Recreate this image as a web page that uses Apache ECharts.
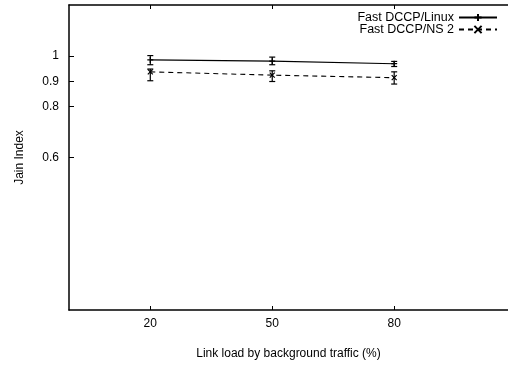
<!DOCTYPE html>
<html><head><meta charset="utf-8">
<script src="https://cdn.jsdelivr.net/npm/echarts@6/dist/echarts.min.js"></script>
<style>html,body{margin:0;padding:0;background:#fff}#c{width:508px;height:366px}</style>
</head><body><div id="c"></div>
<script>
const categories = [20, 50, 80];
const yTicks = [0.6, 0.8, 0.9, 1];
const linuxVals = [0.984, 0.979, 0.969];
const linuxLow = [0.965, 0.965, 0.958];
const linuxHigh = [1.001, 0.995, 0.978];
const ns2Vals = [0.937, 0.924, 0.914];
const ns2Low = [0.902, 0.899, 0.889];
const ns2High = [0.948, 0.941, 0.937];

const FONT = '"Liberation Sans", Arial, Helvetica, sans-serif';
const plusPath = 'path://M0,5L10,5M5,0L5,10';
const crossPath = 'path://M0,0L10,10M10,0L0,10';

function errData(lo, hi) { return categories.map((c, i) => [c, lo[i], hi[i]]); }
function errRender(params, api) {
  const x = api.value(0);
  const a = api.coord([x, api.value(1)]);
  const b = api.coord([x, api.value(2)]);
  const w = 3;
  const st = { stroke: '#000', lineWidth: 1.2 };
  return { type: 'group', children: [
    { type: 'line', shape: { x1: a[0], y1: a[1], x2: b[0], y2: b[1] }, style: st },
    { type: 'line', shape: { x1: a[0] - w, y1: a[1], x2: a[0] + w, y2: a[1] }, style: st },
    { type: 'line', shape: { x1: b[0] - w, y1: b[1], x2: b[0] + w, y2: b[1] }, style: st }
  ]};
}

const chart = echarts.init(document.getElementById('c'));
chart.setOption({
  animation: false,
  grid: { left: 69, right: 0, top: 5, bottom: 56 },
  legend: {
    right: 5, top: 6, orient: 'vertical', align: 'right', itemGap: -1,
    itemWidth: 38, itemHeight: 9,
    textStyle: { fontFamily: FONT, fontSize: 12.5, color: '#000' },
    data: ['Fast DCCP/Linux', 'Fast DCCP/NS 2']
  },
  xAxis: [{
    type: 'value', min: 0, max: 108, position: 'bottom',
    name: 'Link load by background traffic (%)', nameLocation: 'middle', nameGap: 38,
    nameTextStyle: { fontFamily: FONT, fontSize: 12, color: '#000' },
    axisLine: { lineStyle: { color: '#000', width: 1.5 } },
    axisTick: { inside: true, length: 4, customValues: categories, lineStyle: { color: '#000' } },
    axisLabel: { customValues: categories, fontFamily: FONT, fontSize: 12, color: '#000', margin: 8 },
    splitLine: { show: false }
  }, {
    type: 'value', min: 0, max: 108, position: 'top',
    axisLine: { lineStyle: { color: '#000', width: 1.5 } },
    axisTick: { inside: true, length: 4, customValues: categories, lineStyle: { color: '#000' } },
    axisLabel: { show: false },
    splitLine: { show: false }
  }],
  yAxis: {
    type: 'value', min: 0, max: 1.2,
    name: 'Jain Index', nameLocation: 'middle', nameGap: 43, nameRotate: 90,
    nameTextStyle: { fontFamily: FONT, fontSize: 12, color: '#000' },
    axisLine: { show: true, lineStyle: { color: '#000', width: 1.5 } },
    axisTick: { show: true, inside: true, length: 5, customValues: yTicks, lineStyle: { color: '#000' } },
    axisLabel: { customValues: yTicks, fontFamily: FONT, fontSize: 12, color: '#000', margin: 10 },
    splitLine: { show: false }
  },
  series: [{
    name: 'Fast DCCP/Linux', type: 'line',
    data: categories.map((c, i) => [c, linuxVals[i]]),
    symbol: plusPath, symbolSize: 6,
    lineStyle: { color: '#000', width: 1.1, type: 'solid' },
    itemStyle: { color: '#000', borderColor: '#000', borderWidth: 1.2 }
  }, {
    name: 'Fast DCCP/NS 2', type: 'line',
    data: categories.map((c, i) => [c, ns2Vals[i]]),
    symbol: crossPath, symbolSize: 5,
    lineStyle: { color: '#000', width: 1.1, type: [5, 4] },
    itemStyle: { color: '#000', borderColor: '#000', borderWidth: 1.2 }
  }, {
    type: 'custom', renderItem: errRender, data: errData(linuxLow, linuxHigh), z: 3
  }, {
    type: 'custom', renderItem: errRender, data: errData(ns2Low, ns2High), z: 3
  }]
});
</script></body></html>
